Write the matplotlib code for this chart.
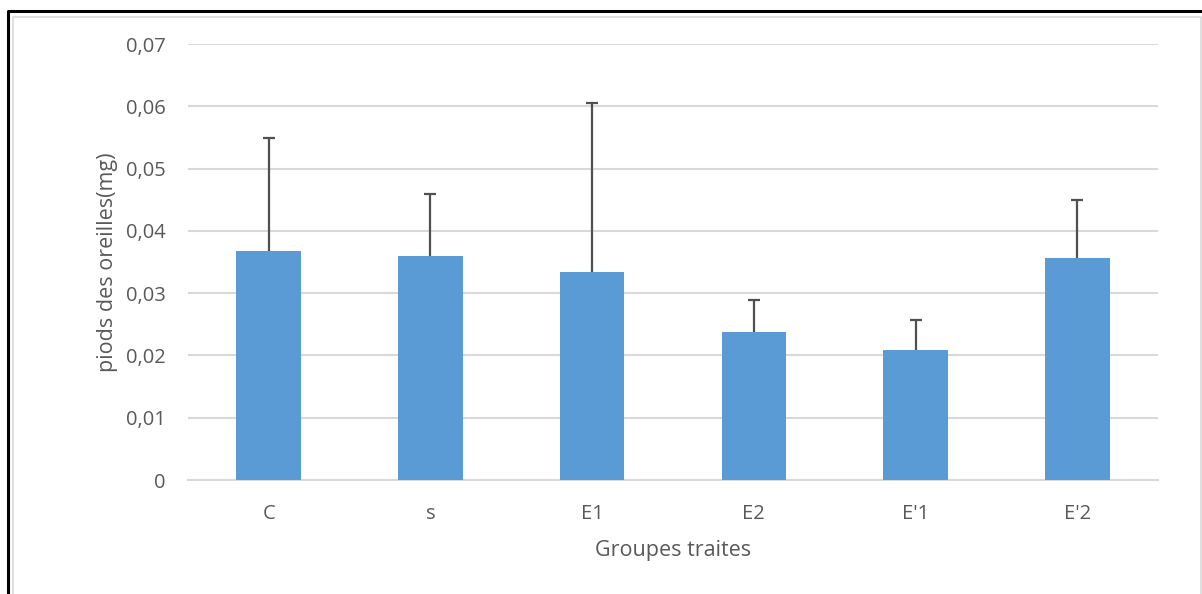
import matplotlib.pyplot as plt
from matplotlib.lines import Line2D

groupes = ['C', 's', 'E1', 'E2', "E'1", "E'2"]
moyennes = [0.0367, 0.0360, 0.0334, 0.0238, 0.0209, 0.0356]
erreurs = [0.0182, 0.0099, 0.0271, 0.0051, 0.0048, 0.0093]

plt.rcParams['font.family'] = ['Open Sans', 'DejaVu Sans']
gris = '#595959'

fig = plt.figure(figsize=(12.02, 5.94), dpi=100)
ax = fig.add_axes([0.1564, 0.1919, 0.8070, 0.7340])

x = list(range(len(groupes)))
ax.bar(x, moyennes, width=0.4, color='#5B9BD5', zorder=3)
eb = ax.errorbar(x, moyennes, yerr=[[0] * len(erreurs), erreurs], fmt='none',
                 ecolor='#505050', elinewidth=1.6, capthick=1.6, capsize=4.5, zorder=4)
eb[1][0].set_visible(False)  # pas de barre en bas

ax.set_xlim(-0.5, len(groupes) - 0.5)
ax.set_ylim(0, 0.07)
ax.set_yticks([i / 100 for i in range(8)])
ax.set_yticklabels(['0'] + ['0,0%d' % i for i in range(1, 8)])
ax.set_xticks(x)
ax.set_xticklabels(groupes)
ax.yaxis.grid(True, color='#D9D9D9', linewidth=1.5, zorder=0)
for s in ['top', 'right', 'left']:
    ax.spines[s].set_visible(False)
ax.spines['bottom'].set_color('#D9D9D9')
ax.spines['bottom'].set_linewidth(1.5)
ax.tick_params(length=0, labelsize=14.5, colors=gris, pad=17)
ax.tick_params(axis='y', pad=16)

ax.set_ylabel('piods des oreilles(mg)', fontsize=15.5, color=gris, labelpad=6)
ax.set_xlabel('Groupes traites', fontsize=15.5, color=gris, labelpad=12)

# cadres autour de la figure
fig.add_artist(Line2D([13 / 1202, 13 / 1202, 1201 / 1202, 1201 / 1202],
                      [0, 1 - 17 / 594, 1 - 17 / 594, 0],
                      color='#D9D9D9', linewidth=1.2))
fig.add_artist(Line2D([8 / 1202, 8 / 1202, 1], [0, 1 - 11 / 594, 1 - 11 / 594],
                      color='black', linewidth=2.2))

fig.savefig('out.png', dpi=100)
